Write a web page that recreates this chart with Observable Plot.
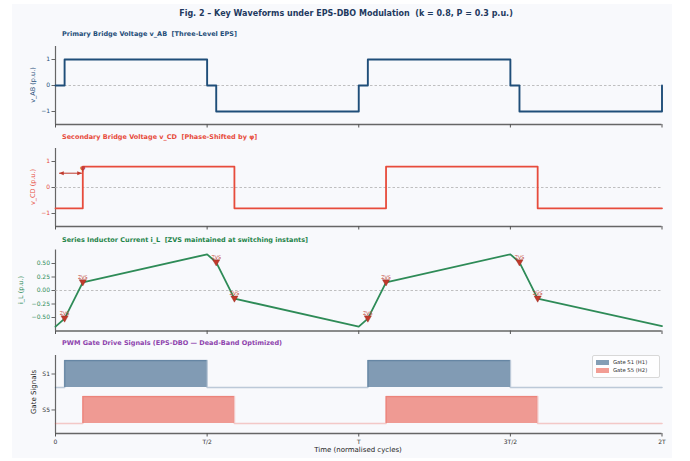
<!DOCTYPE html>
<html>
<head>
<meta charset="utf-8">
<script src="https://cdn.jsdelivr.net/npm/d3@7"></script>
<script src="https://cdn.jsdelivr.net/npm/@observablehq/plot@0.6"></script>
<style>
  body { margin: 0; background: #ffffff; font-family: "DejaVu Sans", sans-serif; }
  #fig { position: relative; width: 690px; height: 461px; overflow: hidden; }
  .abs { position: absolute; white-space: nowrap; }
  .ptitle { font-weight: bold; font-size: 6.5px; line-height: 8px; }
  .ylab { font-size: 6.5px; line-height: 8px; transform: translate(-50%, -50%) rotate(-90deg); }
  svg { position: absolute; left: 0; }
</style>
</head>
<body>
<div id="fig"></div>
<script>
// ---------------- data ----------------
const xTicks = [0, 0.5, 1, 1.5, 2];
const xTickLabels = ["0", "T/2", "T", "3T/2", "2T"];

// Primary bridge voltage v_AB (three-level)
const vabT = [0, 0.03, 0.5, 0.53, 1.0, 1.03, 1.5, 1.53, 2.0];
const vabV = [0, 1, 0, -1, 0, 1, 0, -1, 0];

// Secondary bridge voltage v_CD (phase shifted by phi)
const phi = 0.09;
const vcdT = [0, 0.09, 0.59, 1.09, 1.59, 2.0];
const vcdV = [-0.8, 0.8, -0.8, 0.8, -0.8, -0.8];

// Series inductor current i_L
const iT = [0, 0.03, 0.09, 0.5, 0.53, 0.59, 1.0, 1.03, 1.09, 1.5, 1.53, 1.59, 2.0];
const iV = [-0.67, -0.52, 0.15, 0.67, 0.52, -0.15, -0.67, -0.52, 0.15, 0.67, 0.52, -0.15, -0.66];

// ZVS instants
const zvsT = [0.03, 0.09, 0.53, 0.59, 1.03, 1.09, 1.53, 1.59];
const zvsI = [-0.52, 0.15, 0.52, -0.15, -0.52, 0.15, 0.52, -0.15];

// Gate signals
const s1T = [0, 0.03, 0.5, 1.03, 1.5, 2.0];
const s1V = [0, 1, 0, 1, 0, 0];
const s5T = [0, 0.09, 0.59, 1.09, 1.59, 2.0];
const s5V = [0, 1, 0, 1, 0, 0];
const gateNames = ["S1", "S5"];
const legendLabels = ["Gate S1 (H1)", "Gate S5 (H2)"];

const vTicks = [-1, 0, 1];
const vTickLabels = ["\u22121", "0", "1"];
const iTicks = [-0.5, -0.25, 0, 0.25, 0.5];
const iTickLabels = ["\u22120.50", "\u22120.25", "0.00", "0.25", "0.50"];

// ---------------- styles ----------------
const C_AB = "#1f4e79", C_CD = "#e74c3c", C_I = "#2e8b57", C_ZVS = "#c0392b";
const FONT = "DejaVu Sans, sans-serif";
const ML = 55, MR = 28.5, W = 690;

const zip = (t, v) => t.map((x, i) => ({t: x, v: v[i]}));
const fig = document.getElementById("fig");

function addDiv(html, style, cls) {
  const d = document.createElement("div");
  d.className = "abs " + (cls || "");
  d.innerHTML = html;
  Object.assign(d.style, style);
  fig.appendChild(d);
  return d;
}

// background
addDiv("", {left: "12px", top: "4px", width: "660px", height: "454px", background: "#f8f9fc"});

function baseMarks(yDomain, yTicks, yLabels, tickColor, xLabelsOn) {
  return [
    Plot.ruleX([0], {stroke: "#666", strokeWidth: 1.2}),
    Plot.ruleY([yDomain[0]], {stroke: "#666", strokeWidth: 1.4}),
    Plot.axisY(yTicks, {tickSize: 3.5, tickPadding: 2, fontSize: 6, fill: tickColor, stroke: "#666",
      tickFormat: d => yLabels[yTicks.indexOf(d)], label: null}),
    Plot.axisX(xTicks, {tickSize: 3.5, tickPadding: 3, fontSize: 6, fill: "#333", stroke: "#555",
      tickFormat: d => xLabelsOn ? xTickLabels[xTicks.indexOf(d)] : "", label: null})
  ];
}

function panel(top, height, mt, mb, yDomain, marks) {
  const svg = Plot.plot({
    width: W, height, marginLeft: ML, marginRight: MR, marginTop: mt, marginBottom: mb,
    x: {domain: [0, 2]},
    y: {domain: yDomain},
    style: {background: "transparent", fontFamily: FONT, overflow: "visible"},
    marks
  });
  svg.style.top = top + "px";
  fig.appendChild(svg);
}

const zeroLine = Plot.ruleY([0], {stroke: "#b0b0b0", strokeWidth: 0.8, strokeDasharray: "2.5,2"});

// custom symbols
const triDown = {
  draw(ctx, size) {
    const s = Math.sqrt(size);
    ctx.moveTo(-0.6 * s, -0.45 * s);
    ctx.lineTo(0.6 * s, -0.45 * s);
    ctx.lineTo(0, 0.6 * s);
    ctx.closePath();
  }
};
const headLeft = {
  draw(ctx, size) {
    const s = Math.sqrt(size);
    ctx.moveTo(0, 0);
    ctx.lineTo(s, -0.45 * s);
    ctx.lineTo(s, 0.45 * s);
    ctx.closePath();
  }
};
const headRight = {
  draw(ctx, size) {
    const s = Math.sqrt(size);
    ctx.moveTo(0, 0);
    ctx.lineTo(-s, -0.45 * s);
    ctx.lineTo(-s, 0.45 * s);
    ctx.closePath();
  }
};

// ---------- Panel 1: v_AB ----------
const d1 = [-1.5, 1.5];
panel(40, 90, 6, 6, d1, [
  ...baseMarks(d1, vTicks, vTickLabels, C_AB, false),
  zeroLine,
  Plot.line(zip(vabT, vabV), {x: "t", y: "v", curve: "step-after", stroke: C_AB, strokeWidth: 1.9})
]);

// ---------- Panel 2: v_CD ----------
const d2 = [-1.5, 1.5];
const phiArrow = [{a: 0.012, b: phi - 0.003, y: 0.55}];
panel(142, 90, 6, 6, d2, [
  ...baseMarks(d2, vTicks, vTickLabels, C_CD, false),
  zeroLine,
  Plot.line(zip(vcdT, vcdV), {x: "t", y: "v", curve: "step-after", stroke: C_CD, strokeWidth: 1.8}),
  Plot.link(phiArrow, {x1: "a", x2: "b", y1: "y", y2: "y", stroke: C_ZVS, strokeWidth: 1}),
  Plot.dot(phiArrow, {x: "a", y: "y", symbol: headLeft, r: 2.6, fill: C_ZVS, stroke: "none"}),
  Plot.dot(phiArrow, {x: "b", y: "y", symbol: headRight, r: 2.6, fill: C_ZVS, stroke: "none"}),
  Plot.text([{t: phi}], {x: "t", y: () => 0.76, text: () => "\u03c6", fill: C_ZVS, fontSize: 7, fontWeight: "bold"})
]);

// ---------- Panel 3: i_L ----------
const d3d = [-0.75, 0.75];
panel(243, 94, 6.5, 6.5, d3d, [
  ...baseMarks(d3d, iTicks, iTickLabels, C_I, false),
  zeroLine,
  Plot.line(zip(iT, iV), {x: "t", y: "v", stroke: C_I, strokeWidth: 1.8}),
  Plot.dot(zip(zvsT, zvsI), {x: "t", y: "v", symbol: triDown, r: 3.4, fill: C_ZVS, stroke: "#922b21", strokeWidth: 0.4}),
  Plot.text(zip(zvsT, zvsI), {x: "t", y: "v", text: () => "ZVS", dy: -5, fill: C_ZVS, fontSize: 4.8})
]);

// ---------- Panel 4: gate signals ----------
const AMP = 0.75, S1_BASE = 1.0, S5_BASE = 0.0;
const gTicks = [S1_BASE + AMP / 2, S5_BASE + AMP / 2];
const d4 = [-0.28, 1.89];
panel(349, 112, 6, 28, d4, [
  ...baseMarks(d4, gTicks, gateNames, "#333", true),
  Plot.areaY(zip(s1T, s1V), {x: "t", y1: () => S1_BASE, y2: d => S1_BASE + AMP * d.v, curve: "step-after",
    fill: C_AB, fillOpacity: 0.55}),
  Plot.line(zip(s1T, s1V), {x: "t", y: d => S1_BASE + AMP * d.v, curve: "step-after",
    stroke: C_AB, strokeOpacity: 0.28, strokeWidth: 1.6}),
  Plot.areaY(zip(s5T, s5V), {x: "t", y1: () => S5_BASE, y2: d => S5_BASE + AMP * d.v, curve: "step-after",
    fill: C_CD, fillOpacity: 0.55}),
  Plot.line(zip(s5T, s5V), {x: "t", y: d => S5_BASE + AMP * d.v, curve: "step-after",
    stroke: C_CD, strokeOpacity: 0.28, strokeWidth: 1.6})
]);

// ---------------- text ----------------
addDiv("Fig. 2 \u2013 Key Waveforms under EPS-DBO Modulation&nbsp; (k = 0.8, P = 0.3 p.u.)",
  {left: "346px", top: "9px", transform: "translateX(-50%)", fontWeight: "bold", fontSize: "8px",
   lineHeight: "10px", color: "#1f3a5f"});

addDiv("Primary Bridge Voltage v_AB&nbsp; [Three-Level EPS]", {left: "62px", top: "30px", color: C_AB}, "ptitle");
addDiv("Secondary Bridge Voltage v_CD&nbsp; [Phase-Shifted by \u03c6]", {left: "62px", top: "133px", color: C_CD}, "ptitle");
addDiv("Series Inductor Current i_L&nbsp; [ZVS maintained at switching instants]", {left: "62px", top: "236px", color: "#1e8449"}, "ptitle");
addDiv("PWM Gate Drive Signals (EPS-DBO \u2014 Dead-Band Optimized)", {left: "62px", top: "339px", color: "#8e44ad"}, "ptitle");

addDiv("v_AB (p.u.)", {left: "33px", top: "85px", color: C_AB}, "ylab");
addDiv("v_CD (p.u.)", {left: "33px", top: "187px", color: C_CD}, "ylab");
addDiv("i_L (p.u.)", {left: "21px", top: "290px", color: C_I}, "ylab");
addDiv("Gate Signals", {left: "34px", top: "392px", color: "#222", fontSize: "7px"}, "ylab");

addDiv("Time (normalised cycles)", {left: "358px", top: "446px", transform: "translateX(-50%)",
  fontSize: "7px", lineHeight: "9px", color: "#222"});

// legend
const leg = addDiv("", {left: "592px", top: "355px", width: "66px", height: "21px",
  border: "0.8px solid #d8d8d8", borderRadius: "2px", background: "rgba(255,255,255,0.85)"});
const legColors = ["rgba(31,78,121,0.55)", "rgba(231,76,60,0.55)"];
legendLabels.forEach((lab, i) => {
  const row = document.createElement("div");
  Object.assign(row.style, {position: "absolute", left: "3px", top: (3 + i * 8) + "px", height: "6px",
    display: "flex", alignItems: "center", fontSize: "5.3px", color: "#333", whiteSpace: "nowrap"});
  row.innerHTML = `<span style="display:inline-block;width:13px;height:5px;background:${legColors[i]};margin-right:4px"></span>${lab}`;
  leg.appendChild(row);
});
</script>
</body>
</html>
